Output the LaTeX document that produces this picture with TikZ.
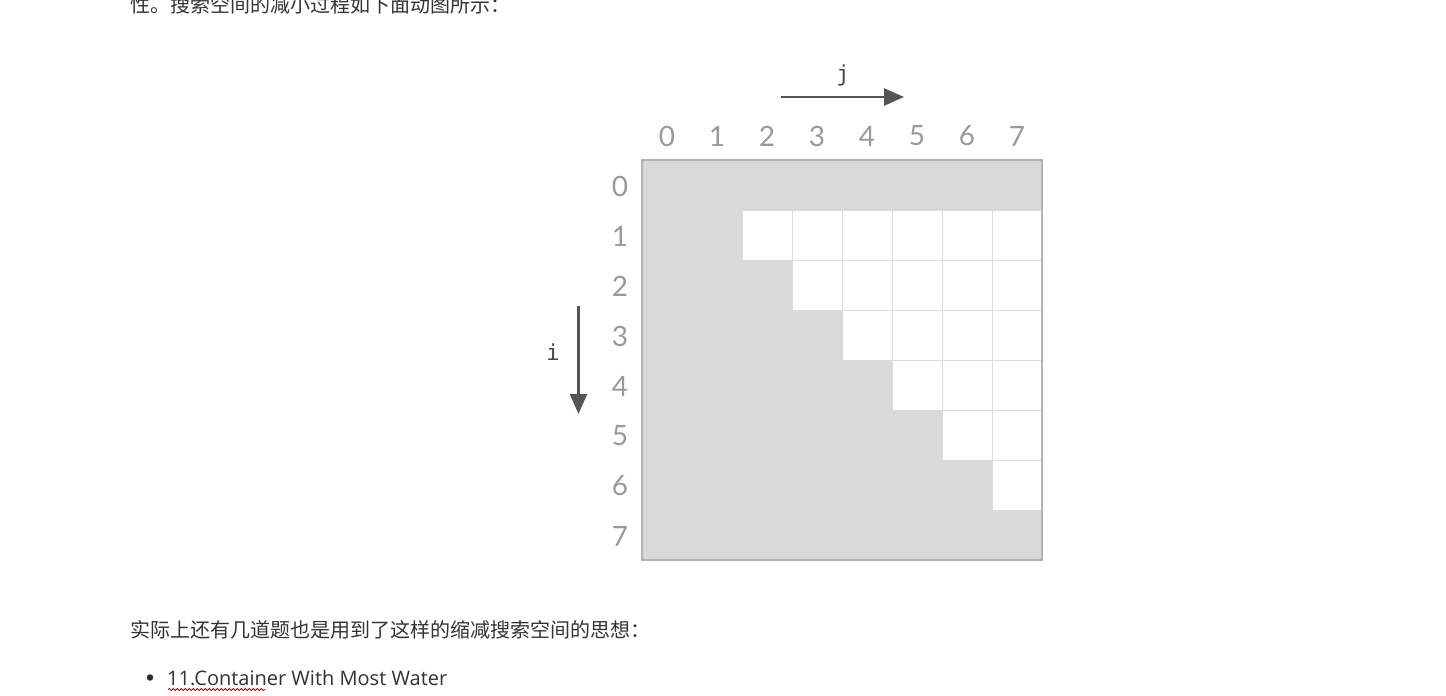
\documentclass[tikz,border=0pt]{standalone}
\usepackage{fontspec}
\usepackage{tikz}
\usetikzlibrary{arrows.meta,decorations.pathmorphing}
\setmainfont{Open Sans}
\newfontfamily\cjk{Noto Sans CJK SC}
\newfontfamily\lato{Lato}
\newfontfamily\mono{DejaVu Sans Mono}
\definecolor{textgray}{HTML}{333333}
\definecolor{labelgray}{HTML}{9A9A9A}
\definecolor{arrowgray}{HTML}{555555}
\definecolor{cellgray}{HTML}{D9D9D9}
\definecolor{bordergray}{HTML}{B4B4B4}
\definecolor{linegray}{HTML}{DCDCDC}

\begin{document}
\begin{tikzpicture}[x=1pt, y=-1pt,
    idx/.style={text=labelgray, font=\lato\fontsize{28}{30}\selectfont, inner sep=0pt},
    var/.style={text=arrowgray!85!black, font=\mono\fontsize{22}{24}\selectfont, inner sep=0pt},
    dir/.style={draw=arrowgray, line width=2.6pt, -{Triangle[length=20pt, width=17pt]}},
    para/.style={text=textgray, anchor=west, inner sep=0pt, font=\cjk\fontsize{20}{24}\selectfont}]
    \useasboundingbox[fill=white] (0,0) rectangle (1446,696);
    % Page text
    \node[para] (top) at (130,5) {性。搜索空间的减小过程如下面动图所示：};
    \node[para] (bottom) at (130,630) {实际上还有几道题也是用到了这样的缩减搜索空间的思想：};
    \node[circle, fill=textgray!90!black, inner sep=0pt, minimum size=6.5pt] (dot) at (150,677.5) {};
    \node[para, font=\fontsize{20}{24}\selectfont] (item) at (167,678) {11.Container With Most Water};
    \draw[red!85!black, line width=0.8pt, decorate, decoration={snake, amplitude=1pt, segment length=4pt}]
        (168,689.5) -- (265,689.5);
    % Search space
    \fill[cellgray] (642,160) rectangle (1042,560);
    \foreach \r in {1,...,6}
        \foreach \c in {\r,...,6}
            \filldraw[fill=white, draw=linegray, line width=1pt] (692+50*\c,160+50*\r) rectangle ++(50,50);
    \draw[bordergray, line width=2pt] (642,160) rectangle (1042,560);
    % Index labels
    \foreach \k in {0,...,7} {
        \node[idx] (col\k) at (667+50*\k,136) {\k};
        \node[idx] (row\k) at (620,186+50*\k) {\k};
    }
    % Direction arrows
    \coordinate (jstart) at (781,97);
    \coordinate (jend) at (904,97);
    \coordinate (istart) at (578.5,306);
    \coordinate (iend) at (578.5,414);
    \node[var] (j) at (843,75) {j};
    \node[var] (i) at (553,352) {i};
    \draw[dir] (jstart) -- (jend);
    \draw[dir] (istart) -- (iend);
\end{tikzpicture}
\end{document}
